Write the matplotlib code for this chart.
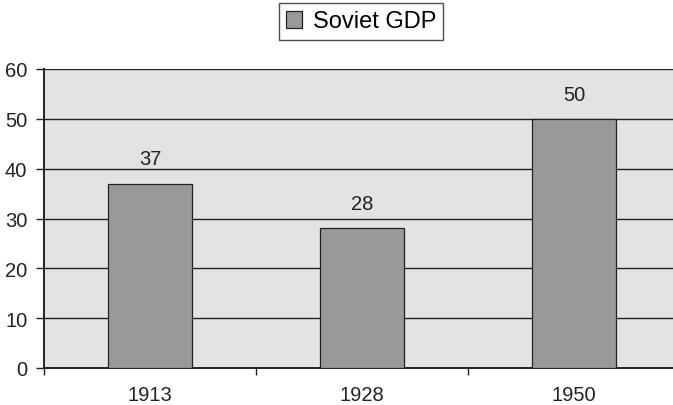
import matplotlib
matplotlib.use("Agg")
import matplotlib.pyplot as plt
import numpy as np

plt.rcParams["font.family"] = ["Liberation Sans", "DejaVu Sans"]

# Soviet GDP index by year
years = ["1913", "1928", "1950"]
gdp = [37, 28, 50]
yticks = [0, 10, 20, 30, 40, 50, 60]

PLOT_BG = "#e3e3e3"
BAR = "#999999"
LINE = "#222222"

fig = plt.figure(figsize=(6.73, 4.06), dpi=100)
ax = fig.add_axes([44 / 673, 37 / 406, 636 / 673, 299 / 406])
ax.set_facecolor(PLOT_BG)

x = np.arange(len(years))
bars = ax.bar(x, gdp, width=0.4, color=BAR, edgecolor=LINE, linewidth=0.9,
              label="Soviet GDP", zorder=3)

for bar, val in zip(bars, gdp):
    ax.annotate(f"{val}", xy=(bar.get_x() + bar.get_width() / 2, val),
                xytext=(0, 11), textcoords="offset points",
                ha="center", va="bottom", fontsize=14.5, color=LINE)

ax.set_xlim(-0.5, len(years) - 0.5)
ax.set_ylim(0, 60)

# horizontal gridlines
ax.set_yticks(yticks)
ax.yaxis.grid(True, color=LINE, linewidth=1.0, zorder=1)
ax.set_axisbelow(True)
ax.tick_params(axis="y", direction="out", length=6, width=1.0, pad=6,
               labelsize=14.5, colors=LINE)

# category labels centered, tick marks between categories
ax.set_xticks(x)
ax.set_xticklabels(years)
ax.set_xticks(np.arange(-0.5, len(years), 1.0), minor=True)
ax.tick_params(axis="x", which="major", length=0, pad=12, labelsize=14.5,
               colors=LINE)
ax.tick_params(axis="x", which="minor", direction="out", length=5, width=1.0,
               color=LINE)

for side in ("top", "right"):
    ax.spines[side].set_visible(False)
for side in ("left", "bottom"):
    ax.spines[side].set_color(LINE)
    ax.spines[side].set_linewidth(1.4)

leg = fig.legend(handles=[bars[0]], labels=["Soviet GDP"],
                 loc="center", bbox_to_anchor=(361 / 673, 1 - 22.5 / 406),
                 fontsize=17, frameon=True, fancybox=False,
                 edgecolor=LINE, handlelength=0.7, handleheight=0.7,
                 handletextpad=0.45, borderpad=0.3, borderaxespad=0)
leg.get_frame().set_linewidth(1.0)

fig.savefig("out.png", dpi=100, facecolor="white")
